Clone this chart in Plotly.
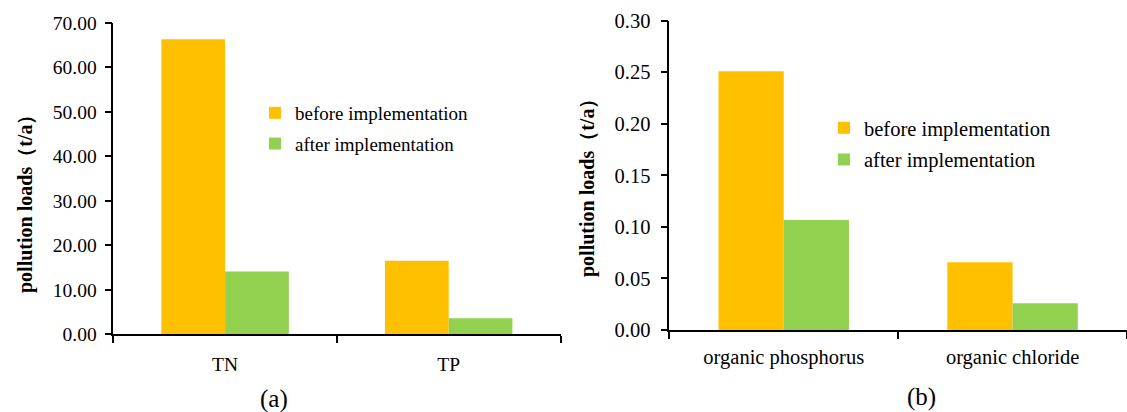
import plotly.graph_objects as go

# ---- data ----
cats_a = ["TN", "TP"]
before_a = [66.3, 16.5]
after_a = [14.1, 3.6]

cats_b = ["organic phosphorus", "organic chloride"]
before_b = [0.251, 0.0656]
after_b = [0.1067, 0.0259]

series_names = ["before implementation", "after implementation"]
ticks_a = [0, 10, 20, 30, 40, 50, 60, 70]
ticks_b = [0, 0.05, 0.10, 0.15, 0.20, 0.25, 0.30]
y_title = "pollution loads（t/a）"
panel_labels = ["(a)", "(b)"]

ORANGE = "#FFC000"
GREEN = "#92D050"
FONT = "Times New Roman, Liberation Serif, serif"

W, H = 1127, 412

fig = go.Figure()
fig.add_trace(go.Bar(x=cats_a, y=before_a, name=series_names[0], marker=dict(color=ORANGE, line=dict(width=0)),
                     xaxis="x", yaxis="y", legend="legend", legendgroup="a1"))
fig.add_trace(go.Bar(x=cats_a, y=after_a, name=series_names[1], marker=dict(color=GREEN, line=dict(width=0)),
                     xaxis="x", yaxis="y", legend="legend", legendgroup="a2"))
fig.add_trace(go.Bar(x=cats_b, y=before_b, name=series_names[0], marker=dict(color=ORANGE, line=dict(width=0)),
                     xaxis="x2", yaxis="y2", legend="legend2", legendgroup="b1"))
fig.add_trace(go.Bar(x=cats_b, y=after_b, name=series_names[1], marker=dict(color=GREEN, line=dict(width=0)),
                     xaxis="x2", yaxis="y2", legend="legend2", legendgroup="b2"))

def px_x(v):
    return v / W

def px_y(v):
    return 1 - v / H

axis_common = dict(showline=True, linecolor="black", linewidth=1.5, ticks="outside", tickcolor="black",
                   tickwidth=1.5, ticklen=7, showgrid=False, zeroline=False, automargin=False)

fig.update_layout(
    template="none",
    width=W, height=H,
    margin=dict(l=0, r=0, t=0, b=0, pad=0, autoexpand=False),
    paper_bgcolor="white", plot_bgcolor="white",
    barmode="group", bargap=0.43, bargroupgap=0,
    font=dict(family=FONT, color="black", size=19),
    xaxis=dict(domain=[px_x(113.3), px_x(560.5)], anchor="y", type="category", range=[-0.5, 1.5],
               tickson="boundaries", tickfont=dict(size=19.5), ticklabelstandoff=12, **axis_common),
    yaxis=dict(domain=[px_y(334.3), px_y(22.7)], anchor="x", range=[0, 70], tickvals=ticks_a,
               tickformat=".2f", tickfont=dict(size=19.5), ticklabelstandoff=4, **axis_common),
    xaxis2=dict(domain=[px_x(669.3), 1.0], anchor="y2", type="category", range=[-0.5, 1.5],
                tickson="boundaries", tickfont=dict(size=20.5), ticklabelstandoff=8, **axis_common),
    yaxis2=dict(domain=[px_y(330), px_y(20.7)], anchor="x2", range=[0, 0.30], tickvals=ticks_b,
                tickformat=".2f", tickfont=dict(size=20.5), ticklabelstandoff=6, **axis_common),
    legend=dict(x=px_x(255), y=px_y(94), xanchor="left", yanchor="top", bgcolor="rgba(0,0,0,0)",
                font=dict(size=19), itemwidth=30, tracegroupgap=3),
    legend2=dict(x=px_x(824), y=px_y(108), xanchor="left", yanchor="top", bgcolor="rgba(0,0,0,0)",
                 font=dict(size=20.5), itemwidth=30, tracegroupgap=2),
    showlegend=True,
)

annotations = [
    dict(text=y_title, x=px_x(25), y=px_y(199), xref="paper", yref="paper", textangle=-90,
         showarrow=False, font=dict(size=20, family=FONT, weight="bold"), xanchor="center", yanchor="middle"),
    dict(text=y_title, x=px_x(587), y=px_y(183), xref="paper", yref="paper", textangle=-90,
         showarrow=False, font=dict(size=20, family=FONT, weight="bold"), xanchor="center", yanchor="middle"),
    dict(text=panel_labels[0], x=px_x(273.5), y=px_y(399), xref="paper", yref="paper", showarrow=False,
         font=dict(size=25, family=FONT), xanchor="center", yanchor="middle"),
    dict(text=panel_labels[1], x=px_x(921.5), y=px_y(397), xref="paper", yref="paper", showarrow=False,
         font=dict(size=25, family=FONT), xanchor="center", yanchor="middle"),
]
fig.update_layout(annotations=annotations)

fig.write_html("out.html", config={"displayModeBar": False},
               post_script="document.body.style.margin='0';document.body.style.padding='0';document.body.style.overflow='hidden';")
